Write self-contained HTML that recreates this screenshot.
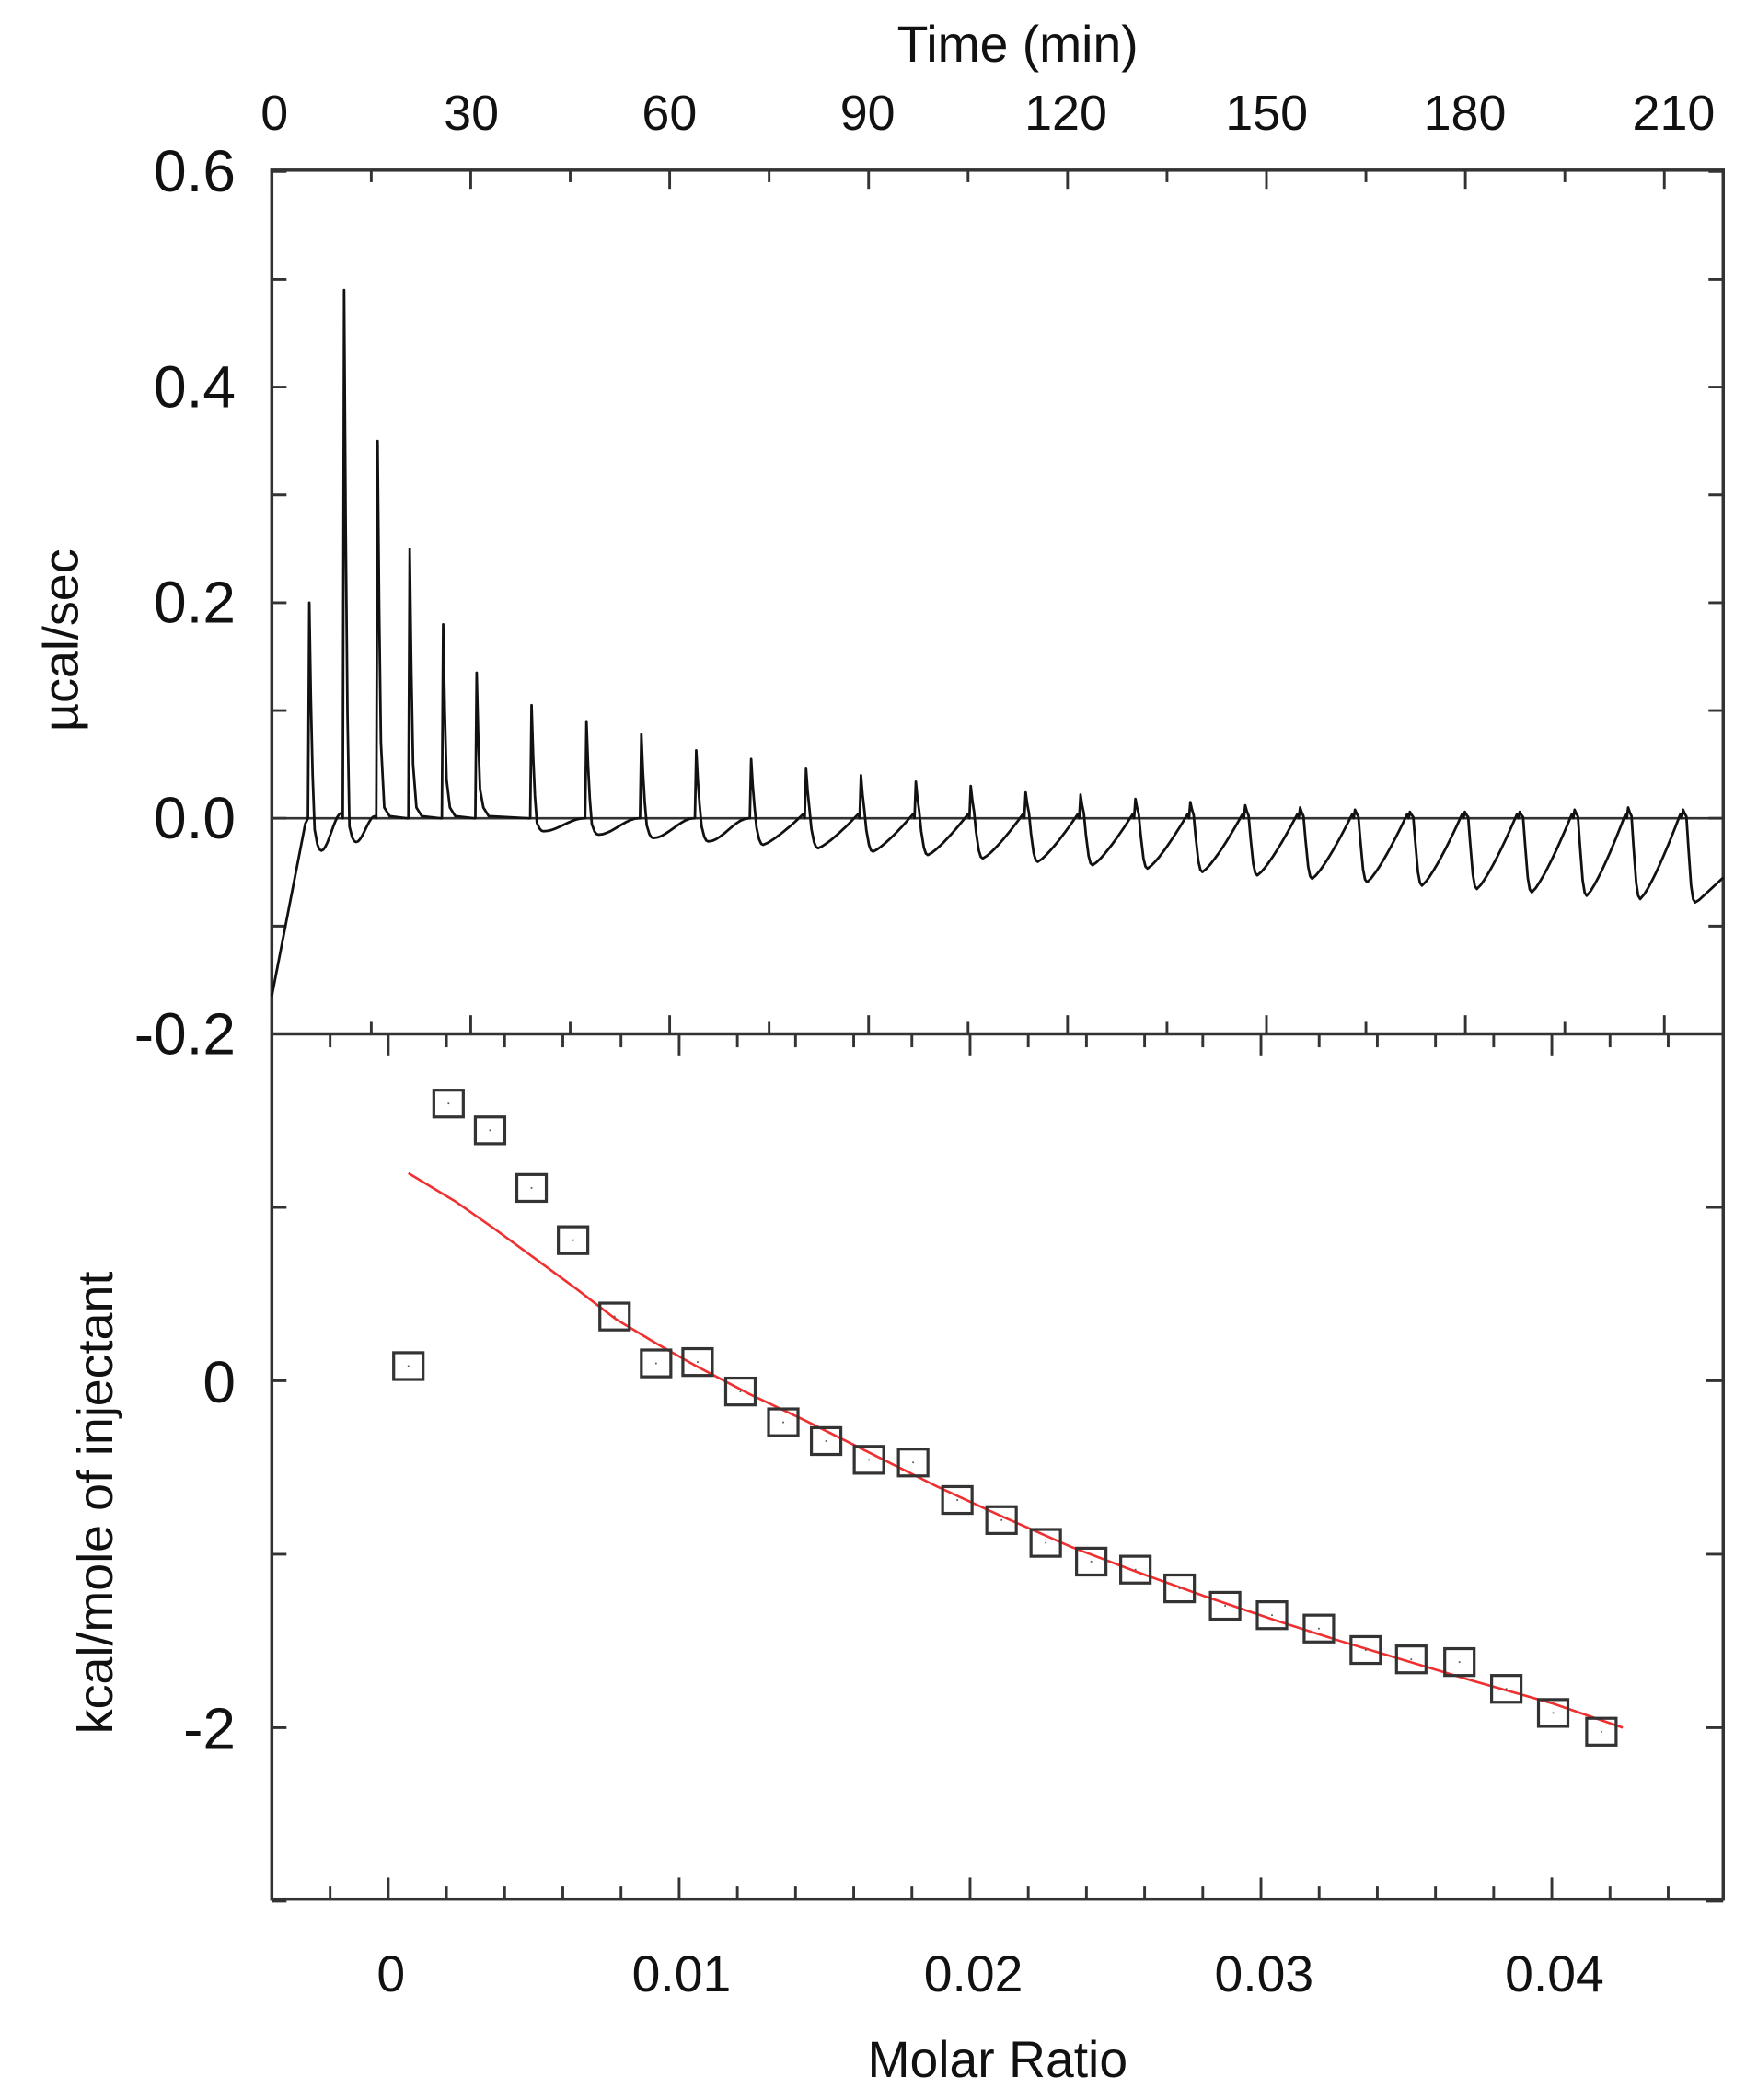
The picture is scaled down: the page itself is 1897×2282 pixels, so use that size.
<!DOCTYPE html>
<html><head><meta charset="utf-8"><style>
html,body{margin:0;padding:0;background:#fff;}
svg{display:block;}
text{font-family:"Liberation Sans",sans-serif;fill:#111;}
</style></head><body>
<svg id="s" width="1897" height="2282" viewBox="0 0 1304 1568" preserveAspectRatio="none" xmlns="http://www.w3.org/2000/svg">
<rect width="1304" height="1568" fill="#fff"/>
<g id="axes" stroke="#333" stroke-width="2.4" fill="none">
<rect x="203" y="127" width="1084" height="1291"/>
<line x1="203" y1="772" x2="1287" y2="772"/>
<line x1="203" y1="611" x2="1287" y2="611" stroke-width="1.8"/>
</g>
<g id="ticks" stroke="#333" stroke-width="2"></g>
<path id="trace" fill="none" stroke="#111" stroke-width="1.9" stroke-linejoin="round"/>
<path id="fit" fill="none" stroke="#f03030" stroke-width="1.8" d="M305,876 L340,897 L370,918 L400,940 L430,962 L460,985 L490,1003 L520,1020 L560,1041 L600,1060 L650,1085 L700,1110 L750,1133 L800,1155 L850,1174 L900,1192 L950,1209 L1000,1225 L1050,1240 L1100,1255 L1160,1272 L1212,1290"/>
<g id="pts" fill="none" stroke="#333" stroke-width="2.2"></g>
<g font-size="37" text-anchor="middle">
<text x="205" y="97">0</text><text x="352" y="97">30</text><text x="500" y="97">60</text><text x="648" y="97">90</text><text x="796" y="97">120</text><text x="946" y="97">150</text><text x="1094" y="97">180</text><text x="1250" y="97">210</text>
<text x="760" y="46" font-size="38">Time (min)</text>
<text x="292" y="1487" font-size="38">0</text><text x="509" y="1487" font-size="38">0.01</text><text x="727" y="1487" font-size="38">0.02</text><text x="944" y="1487" font-size="38">0.03</text><text x="1161" y="1487" font-size="38">0.04</text>
<text x="745" y="1551" font-size="38">Molar Ratio</text>
</g>
<g font-size="44" text-anchor="end">
<text x="176" y="143">0.6</text><text x="176" y="304">0.4</text><text x="176" y="465">0.2</text><text x="176" y="626">0.0</text><text x="176" y="787">-0.2</text>
<text x="176" y="1047">0</text><text x="176" y="1306">-2</text>
</g>
<text font-size="37" text-anchor="middle" transform="translate(58,478) rotate(-90)">µcal/sec</text>
<text font-size="37" text-anchor="middle" transform="translate(84,1122) rotate(-90)">kcal/mole of injectant</text>
</svg>
<script>
var NS="http://www.w3.org/2000/svg";
var tk=document.getElementById("ticks");
function L(x1,y1,x2,y2){var l=document.createElementNS(NS,"line");l.setAttribute("x1",x1);l.setAttribute("y1",y1);l.setAttribute("x2",x2);l.setAttribute("y2",y2);tk.appendChild(l);}
for(var m=0;m<=218;m+=15){var x=203+m*(1040/210);var len=(m%30==0)?14:9;L(x,127,x,127+len);L(x,772,x,772-len);}
for(var v=-0.2;v<=0.601;v+=0.1){var y=611-v*805;L(203,y,214,y);L(1287,y,1276,y);}
for(var i=-2;i<=23;i++){var x=290+i*0.002*21725;if(x<203||x>1287)continue;var len=(i%5==0)?16:10;L(x,1418,x,1418-len);L(x,772,x,772+len);}
for(var k=-3;k<=2;k++){var y=1031-k*129.5;L(203,y,214,y);L(1287,y,1274,y);}
var P=[[305,1020],[335,824],[366,844],[397,887],[428,926],[459,983],[490,1018],[521,1017],[553,1039],[585,1062],[617,1076],[649,1090],[682,1092],[715,1120],[748,1135],[781,1152],[815,1166],[848,1172],[881,1186],[915,1199],[950,1206],[985,1216],[1020,1232],[1054,1239],[1090,1241],[1125,1261],[1160,1279],[1196,1293]];
var pg=document.getElementById("pts");
P.forEach(function(p){var r=document.createElementNS(NS,"rect");r.setAttribute("x",p[0]-11);r.setAttribute("y",p[1]-10);r.setAttribute("width",22);r.setAttribute("height",20);pg.appendChild(r);
var d=document.createElementNS(NS,"rect");d.setAttribute("x",p[0]-0.6);d.setAttribute("y",p[1]-0.6);d.setAttribute("width",1.2);d.setAttribute("height",1.2);d.setAttribute("fill","#555");d.setAttribute("stroke","none");pg.appendChild(d);});
var T=[230,256,281,305,330,355,396,437,478,519,560,601,642,683,724,765,806,847,888,929,970,1011,1052,1093,1134,1175,1215,1256];
var H=[0.2,0.49,0.35,0.25,0.18,0.135,0.105,0.09,0.078,0.063,0.055,0.046,0.04,0.034,0.03,0.024,0.022,0.018,0.015,0.012,0.01,0.008,0.006,0.006,0.006,0.008,0.01,0.008];
function Y(v){return 611-v*805;}
var d="M203,"+Y(-0.165)+" L228,"+Y(-0.005);
for(var i=0;i<T.length;i++){
 var t=T[i],nt=(i<T.length-1)?T[i+1]:1287,h=H[i];
 d+=" L"+t+","+Y(0)+" L"+(t+1)+","+Y(h)+" L"+(t+2.2)+","+Y(h*0.55)+" L"+(t+3.5)+","+Y(h*0.2);
 var mn,endv;
 if(i==0){mn=-0.03;endv=0.005;}else if(i==1){mn=-0.022;endv=0.002;}
 else if(i<6){mn=0;endv=0;}
 else{mn=-0.012-0.066*(t-396)/(1256-396);endv=(i<10)?0:0.004;}
 if(i>=2&&i<6){d+=" L"+(t+6)+","+Y(0.01)+" L"+(t+10)+","+Y(0.002)+" L"+(nt-1)+","+Y(0);continue;}
 var tm=t+10;
 d+=" L"+(t+5)+","+Y(mn*0.35)+" L"+(t+7)+","+Y(mn*0.8)+" L"+(t+8.5)+","+Y(mn*0.96)+" L"+tm+","+Y(mn);
 if(i==T.length-1){d+=" L"+(tm+3)+","+Y(mn*0.97)+" L1287,"+Y(-0.055);break;}
 var steps=10;for(var s=1;s<=steps;s++){var f=s/steps;var x=tm+(nt-1-tm)*f;var g=(i<10)?(f*f*(3-2*f)):(Math.pow(f,1.25));var v=mn+(endv-mn)*g;d+=" L"+x.toFixed(1)+","+Y(v).toFixed(1);}
}
document.getElementById("trace").setAttribute("d",d);
</script>
</body></html>
